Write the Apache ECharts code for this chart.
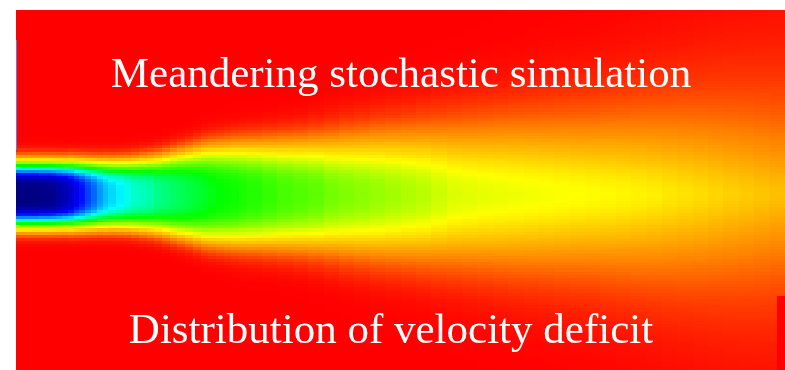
<!DOCTYPE html>
<html>
<head>
<meta charset="utf-8">
<script src="https://cdn.jsdelivr.net/npm/echarts@6/dist/echarts.min.js"></script>
<style>
  html, body { margin: 0; padding: 0; background: #ffffff; }
  #chart { width: 785px; height: 370px; }
</style>
</head>
<body>
<div id="chart"></div>
<script>
// Downstream stations (rotor diameters); each station starts a column of cells
const xStations = [0, 0.15, 0.3, 0.45, 0.6, 0.75, 0.9, 1.05, 1.2, 1.35, 1.5, 1.65, 1.8, 1.95, 2.1, 2.25, 2.4,
  2.6, 2.8, 3.0, 3.2, 3.4, 3.6, 3.8,
  4.0, 4.2, 4.4, 4.6, 4.8, 5.0, 5.2, 5.4, 5.6, 5.8,
  6.0, 6.4, 6.8, 7.2, 7.6, 8.0, 8.4, 8.8, 9.2, 9.6, 10.0,
  10.4, 10.8, 11.2, 11.6, 12.0, 12.4, 12.8, 13.2, 13.6, 14.0, 14.4, 14.8, 15.2, 15.6,
  16.0, 16.4, 16.8, 17.2, 17.6, 18.0, 18.4, 18.8, 19.2, 19.6];
const xEnd = 20;

// Centreline velocity deficit (normalised) at each station
const centreDeficit = [1.00, 1.00, 1.00, 1.00, 0.99, 0.99, 0.98, 0.96, 0.94, 0.91, 0.87, 0.84, 0.80, 0.77, 0.73, 0.70, 0.68,
  0.66, 0.64, 0.62, 0.61, 0.60, 0.58, 0.57,
  0.56, 0.55, 0.54, 0.53, 0.52, 0.51, 0.50, 0.495, 0.49, 0.48,
  0.47, 0.455, 0.44, 0.43, 0.42, 0.40, 0.39, 0.38, 0.37, 0.36, 0.35,
  0.34, 0.325, 0.31, 0.305, 0.30, 0.297, 0.293, 0.29, 0.287, 0.284, 0.28, 0.277, 0.274, 0.27,
  0.265, 0.26, 0.252, 0.245, 0.238, 0.23, 0.222, 0.215, 0.207, 0.20];

// Wake half-width (diameters) at each station
const wakeWidth = [0.84, 0.84, 0.84, 0.84, 0.84, 0.84, 0.84, 0.84, 0.84, 0.85, 0.85, 0.85, 0.85, 0.85, 0.85, 0.86, 0.86,
  0.87, 0.88, 0.90, 0.92, 0.94, 0.97, 1.01,
  1.05, 1.09, 1.13, 1.175, 1.22, 1.24, 1.26, 1.275, 1.29, 1.30,
  1.31, 1.33, 1.35, 1.37, 1.40, 1.44, 1.48, 1.52, 1.56, 1.59, 1.62,
  1.66, 1.70, 1.74, 1.77, 1.80, 1.83, 1.86, 1.88, 1.90, 1.92, 1.94, 1.96, 2.00, 2.04,
  2.08, 2.12, 2.16, 2.20, 2.24, 2.28, 2.32, 2.35, 2.38, 2.40];

// Profile flatness exponent at each station (flat-topped near the rotor, heavy-tailed far downstream)
const profileExp = [3.6, 3.6, 3.6, 3.6, 3.6, 3.6, 3.6, 3.6, 3.6, 3.6, 3.6, 3.6, 3.6, 3.6, 3.6, 3.6, 3.6,
  3.65, 3.65, 3.65, 3.65, 3.65, 3.65, 3.65,
  3.65, 3.62, 3.6, 3.55, 3.5, 3.42, 3.35, 3.28, 3.2, 3.15,
  3.1, 3.0, 2.9, 2.8, 2.7, 2.6, 2.5, 2.45, 2.4, 2.35, 2.3,
  2.25, 2.2, 2.15, 2.1, 2.05, 2.0, 1.95, 1.9, 1.85, 1.8, 1.77, 1.74, 1.7, 1.66,
  1.62, 1.58, 1.55, 1.52, 1.49, 1.46, 1.43, 1.41, 1.38, 1.36];

// Lateral extent of the domain and wake axis position (diameters)
const yMin = -4.68, yMax = 4.68, yStep = 0.08;
const wakeCentre = -0.12;

const titleText = 'Meandering stochastic simulation';
const captionText = 'Distribution of velocity deficit';

// Cells: [x0, x1, y0, y1, deficit]
const cells = [];
const nRows = Math.round((yMax - yMin) / yStep);
for (let i = 0; i < xStations.length; i++) {
  const x0 = xStations[i];
  const x1 = i + 1 < xStations.length ? xStations[i + 1] : xEnd;
  for (let j = 0; j < nRows; j++) {
    const y0 = yMin + j * yStep;
    const y1 = y0 + yStep;
    const r = Math.abs((y0 + y1) / 2 - wakeCentre);
    const d = centreDeficit[i] * Math.exp(-Math.pow(r / wakeWidth[i], profileExp[i]));
    cells.push([x0, x1, y0, y1, d]);
  }
}

// Colour ramp: red (no deficit) through orange, yellow, green, cyan, blue to navy
const rampStops = [
  [0.00, [255, 0, 0]],
  [0.12, [255, 128, 0]],
  [0.28, [255, 255, 0]],
  [0.50, [0, 255, 0]],
  [0.65, [0, 255, 255]],
  [0.85, [0, 0, 255]],
  [1.00, [0, 0, 128]]
];
function rampColor(t) {
  for (let k = 0; k < rampStops.length - 1; k++) {
    const a = rampStops[k], b = rampStops[k + 1];
    if (t <= b[0]) {
      const f = (t - a[0]) / (b[0] - a[0]);
      const c = a[1].map((v, n) => Math.round(v + (b[1][n] - v) * f));
      return 'rgb(' + c.join(',') + ')';
    }
  }
  return 'rgb(0,0,128)';
}
const rampColors = [];
for (let k = 0; k <= 100; k++) rampColors.push(rampColor(k / 100));

const serifFont = '"Liberation Serif", "Times New Roman", serif';

const chart = echarts.init(document.getElementById('chart'), null, { renderer: 'canvas' });
chart.setOption({
  animation: false,
  backgroundColor: '#ffffff',
  grid: { left: 16, top: 10, right: 0, bottom: 0, show: true, backgroundColor: '#ff0000', borderWidth: 0 },
  xAxis: { type: 'value', min: 0, max: xEnd, show: false },
  yAxis: { type: 'value', min: yMin, max: yMax, show: false },
  visualMap: {
    show: false, type: 'continuous', min: 0, max: 1, dimension: 4, seriesIndex: 0,
    inRange: { color: rampColors }
  },
  series: [{
    type: 'custom',
    data: cells,
    encode: { x: [0, 1], y: [2, 3] },
    renderItem: function (params, api) {
      const a = api.coord([api.value(0), api.value(3)]);
      const b = api.coord([api.value(1), api.value(2)]);
      const x0 = Math.round(a[0]), y0 = Math.round(a[1]);
      const x1 = Math.round(b[0]), y1 = Math.round(b[1]);
      return {
        type: 'rect',
        shape: { x: x0, y: y0, width: x1 - x0, height: y1 - y0 },
        style: { fill: api.visual('color') }
      };
    }
  }],
  graphic: [
    {
      type: 'rect', z: 90,
      shape: { x: 777, y: 296, width: 8, height: 74 },
      style: { fill: '#ff0000' }
    },
    {
      type: 'rect', z: 90,
      shape: { x: 16, y: 40, width: 1, height: 110 },
      style: { fill: '#6a78d8' }
    },
    {
      type: 'text', z: 100, x: 401, y: 54,
      style: { text: titleText, fill: '#ffffff', font: '43px ' + serifFont, textAlign: 'center', textVerticalAlign: 'top' }
    },
    {
      type: 'text', z: 100, x: 391, y: 310,
      style: { text: captionText, fill: '#ffffff', font: '43px ' + serifFont, textAlign: 'center', textVerticalAlign: 'top' }
    }
  ]
});
</script>
</body>
</html>
